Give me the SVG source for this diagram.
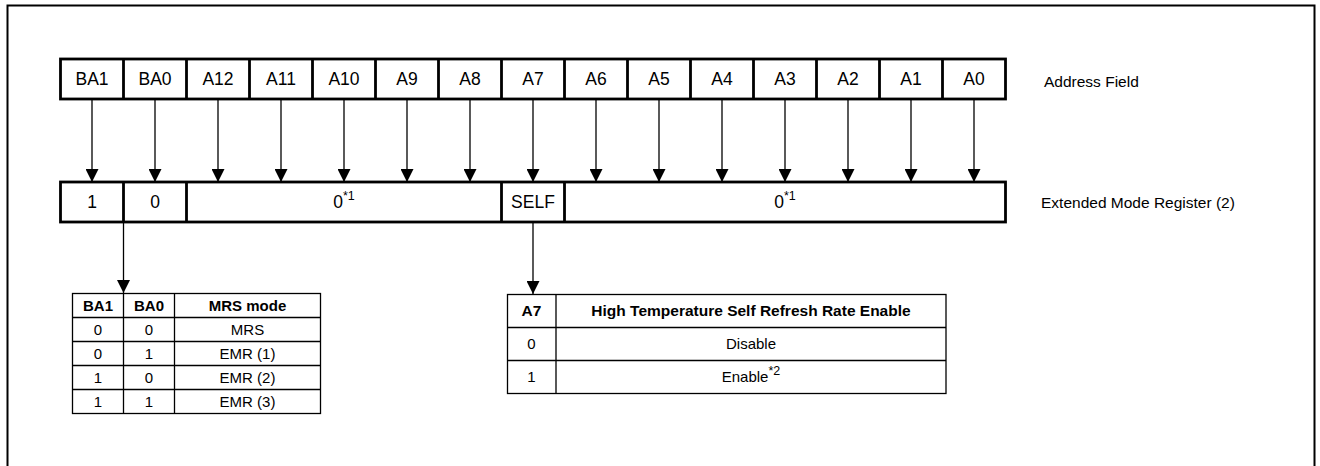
<svg xmlns="http://www.w3.org/2000/svg" width="1320" height="466" viewBox="0 0 1320 466">
<defs>
<style>
.t{font-family:"Liberation Sans",Arial,sans-serif;fill:#000}
.big{font-size:17.5px;text-anchor:middle}
.lbl{font-size:15.5px}
.tb{font-size:15px;text-anchor:middle}
.hb{font-size:15px;font-weight:bold;text-anchor:middle}
.hb2{font-size:15.5px;font-weight:bold;text-anchor:middle}
.sup{font-size:12.5px}
.thick{fill:#fff;stroke:#000;stroke-width:2.8}
.thin{fill:none;stroke:#000;stroke-width:1.3}
.conn{stroke:#000;stroke-width:1.3;fill:none}
</style>
<marker id="ah" viewBox="0 0 13 13" refX="13" refY="6.5" markerWidth="13" markerHeight="13" markerUnits="userSpaceOnUse" orient="auto">
<path d="M0,0 L13,6.5 L0,13 z" fill="#000"/>
</marker>
</defs>
<rect width="1320" height="466" fill="#fff"/>
<rect x="7.5" y="5.5" width="1307" height="480" fill="none" stroke="#000" stroke-width="2"/>

<g id="address-field">
<rect class="thick" x="60.5" y="59" width="945" height="40"/>
<path class="thick" d="M123.5,59V99M186.5,59V99M249.5,59V99M312.5,59V99M375.5,59V99M438.5,59V99M501.5,59V99M564.5,59V99M627.5,59V99M690.5,59V99M753.5,59V99M816.5,59V99M879.5,59V99M942.5,59V99"/>
<text class="t big" x="92" y="85">BA1</text>
<text class="t big" x="155" y="85">BA0</text>
<text class="t big" x="218" y="85">A12</text>
<text class="t big" x="281" y="85">A11</text>
<text class="t big" x="344" y="85">A10</text>
<text class="t big" x="407" y="85">A9</text>
<text class="t big" x="470" y="85">A8</text>
<text class="t big" x="533" y="85">A7</text>
<text class="t big" x="596" y="85">A6</text>
<text class="t big" x="659" y="85">A5</text>
<text class="t big" x="722" y="85">A4</text>
<text class="t big" x="785" y="85">A3</text>
<text class="t big" x="848" y="85">A2</text>
<text class="t big" x="911" y="85">A1</text>
<text class="t big" x="974" y="85">A0</text>
</g>
<g id="address-field-label">
<text class="t lbl" x="1044" y="87">Address Field</text>
</g>

<g id="emr2">
<rect class="thick" x="60.5" y="182" width="945" height="40"/>
<path class="thick" d="M123.5,182V222M186.5,182V222M501.5,182V222M564.5,182V222"/>
<text class="t big" x="92" y="208">1</text>
<text class="t big" x="155" y="208">0</text>
<text class="t big" x="344" y="208">0<tspan class="sup" dy="-8">*1</tspan></text>
<text class="t big" x="533" y="208">SELF</text>
<text class="t big" x="785" y="208">0<tspan class="sup" dy="-8">*1</tspan></text>
</g>
<g id="emr2-label">
<text class="t lbl" x="1041" y="208">Extended Mode Register (2)</text>
</g>

<g id="connectors">
<path class="conn" marker-end="url(#ah)" d="M92,99V182"/>
<path class="conn" marker-end="url(#ah)" d="M155,99V182"/>
<path class="conn" marker-end="url(#ah)" d="M218,99V182"/>
<path class="conn" marker-end="url(#ah)" d="M281,99V182"/>
<path class="conn" marker-end="url(#ah)" d="M344,99V182"/>
<path class="conn" marker-end="url(#ah)" d="M407,99V182"/>
<path class="conn" marker-end="url(#ah)" d="M470,99V182"/>
<path class="conn" marker-end="url(#ah)" d="M533,99V182"/>
<path class="conn" marker-end="url(#ah)" d="M596,99V182"/>
<path class="conn" marker-end="url(#ah)" d="M659,99V182"/>
<path class="conn" marker-end="url(#ah)" d="M722,99V182"/>
<path class="conn" marker-end="url(#ah)" d="M785,99V182"/>
<path class="conn" marker-end="url(#ah)" d="M848,99V182"/>
<path class="conn" marker-end="url(#ah)" d="M911,99V182"/>
<path class="conn" marker-end="url(#ah)" d="M974,99V182"/>
<path class="conn" marker-end="url(#ah)" d="M123.5,223V293"/>
<path class="conn" marker-end="url(#ah)" d="M533,223V294"/>
</g>

<g id="mrs-table">
<rect class="thin" x="72.5" y="293.5" width="248" height="120"/>
<path class="thin" d="M123.5,293.5V413.5M174.5,293.5V413.5M72.5,317.5H320.5M72.5,341.5H320.5M72.5,365.5H320.5M72.5,389.5H320.5"/>
<text class="t hb" x="98" y="311">BA1</text>
<text class="t hb" x="149" y="311">BA0</text>
<text class="t hb" x="247.5" y="311">MRS mode</text>
<text class="t tb" x="98" y="335">0</text>
<text class="t tb" x="149" y="335">0</text>
<text class="t tb" x="247.5" y="335">MRS</text>
<text class="t tb" x="98" y="359">0</text>
<text class="t tb" x="149" y="359">1</text>
<text class="t tb" x="247.5" y="359">EMR (1)</text>
<text class="t tb" x="98" y="383">1</text>
<text class="t tb" x="149" y="383">0</text>
<text class="t tb" x="247.5" y="383">EMR (2)</text>
<text class="t tb" x="98" y="407">1</text>
<text class="t tb" x="149" y="407">1</text>
<text class="t tb" x="247.5" y="407">EMR (3)</text>
</g>

<g id="a7-table">
<rect class="thin" x="507.5" y="294.5" width="438.5" height="99"/>
<path class="thin" d="M556,294.5V393.5M507.5,327.5H946M507.5,360.5H946"/>
<text class="t hb2" x="531.5" y="316">A7</text>
<text class="t hb2" x="751" y="316">High Temperature Self Refresh Rate Enable</text>
<text class="t tb" x="531.5" y="349">0</text>
<text class="t tb" x="751" y="349">Disable</text>
<text class="t tb" x="531.5" y="382">1</text>
<text class="t tb" x="751" y="382">Enable<tspan class="sup" dy="-7">*2</tspan></text>
</g>
</svg>
